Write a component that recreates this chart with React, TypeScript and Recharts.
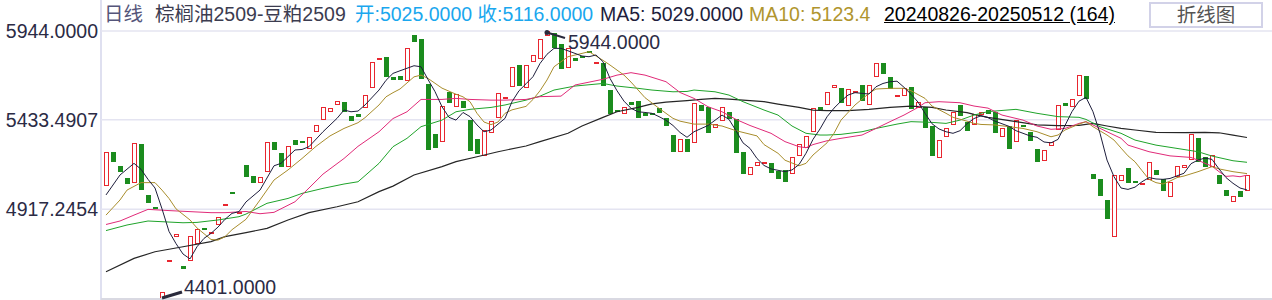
import React from 'react';
import { ComposedChart, Bar, Line, XAxis, YAxis, CartesianGrid, ReferenceDot, ReferenceLine } from 'recharts';

// 棕榈油2509-豆粕2509 daily, 20240826-20250512, 164 candles
const opens = [
  5053, 5246, 5168, 5096, 5067, 5293, 5000, 4929, 4401, 4612,
  4760, 4591, 4620, 4716, 4808, 4783, 4827, 4941, 5019, 4889,
  5173, 5111, 5071, 5131, 5303, 5240, 5163, 5316, 5311, 5263,
  5361, 5432, 5478, 5516, 5537, 5455, 5466, 5499, 5614, 5783,
  5794, 5677, 5687, 5658, 5921, 5898, 5639, 5351, 5303, 5595,
  5508, 5543, 5432, 5322, 5226, 5359, 5441, 5554, 5620, 5748,
  5614, 5764, 5783, 5917, 5931, 5869, 5729, 5790, 5800, 5829,
  5761, 5761, 5604, 5488, 5464, 5535, 5541, 5470, 5472, 5501,
  5445, 5345, 5249, 5322, 5297, 5518, 5505, 5384, 5426, 5476,
  5436, 5246, 5113, 5167, 5185, 5182, 5138, 5144, 5119, 5224,
  5269, 5361, 5505, 5518, 5614, 5614, 5512, 5591, 5633, 5518,
  5677, 5758, 5677, 5570, 5570, 5623, 5499, 5508, 5397, 5211,
  5336, 5403, 5518, 5422, 5403, 5460, 5489, 5476, 5332, 5397,
  5303, 5405, 5361, 5265, 5196, 5282, 5374, 5528, 5505, 5570,
  5685, 5121, 5092, 4971, 4760, 5082, 5157, 5082, 5056, 5086,
  5144, 5090, 4987, 5105, 5153, 5201, 5330, 5220, 5163, 5115,
  5029, 4961, 5023, 5025,
];
const closes = [
  5246, 5192, 5134, 5063, 5297, 5029, 4952, 4919, 4440, 4625,
  4774, 4572, 4764, 4802, 4798, 4789, 4875, 4946, 5004, 4900,
  5105, 5071, 5102, 5303, 5259, 5163, 5282, 5288, 5301, 5332,
  5401, 5505, 5499, 5541, 5476, 5428, 5451, 5576, 5764, 5789,
  5681, 5662, 5662, 5844, 5882, 5668, 5259, 5272, 5512, 5528,
  5581, 5502, 5255, 5236, 5374, 5426, 5585, 5566, 5735, 5629,
  5748, 5806, 5896, 5944, 5844, 5725, 5848, 5773, 5792, 5823,
  5767, 5629, 5466, 5482, 5505, 5520, 5445, 5456, 5466, 5470,
  5399, 5249, 5322, 5249, 5528, 5485, 5359, 5409, 5505, 5436,
  5240, 5119, 5159, 5188, 5189, 5128, 5094, 5076, 5217, 5292,
  5339, 5502, 5489, 5595, 5631, 5528, 5608, 5597, 5543, 5631,
  5758, 5695, 5608, 5574, 5614, 5493, 5533, 5384, 5226, 5316,
  5384, 5479, 5456, 5370, 5464, 5476, 5466, 5355, 5384, 5263,
  5432, 5399, 5312, 5188, 5259, 5307, 5518, 5514, 5553, 5691,
  5553, 5092, 4996, 4862, 5115, 5115, 5071, 5071, 5071, 5188,
  5115, 5025, 5076, 5168, 5173, 5349, 5192, 5163, 5230, 5063,
  4996, 4994, 4990, 5116,
];

// moving averages as [candle index, value]
const ma5Pts: [number, number][] = [
  [0, 5000], [2, 5115], [4, 5182], [5, 5148], [6, 5090], [7, 5040], [8, 4920], [9, 4790], [10, 4720],
  [11, 4660], [12, 4632], [13, 4702], [14, 4750], [15, 4779], [16, 4815], [17, 4860], [18, 4894],
  [19, 4904], [20, 4960], [22, 5028], [24, 5168], [25, 5182], [27, 5259], [28, 5262], [29, 5278],
  [31, 5364], [33, 5441], [34, 5489], [35, 5479], [36, 5483], [37, 5518], [39, 5604], [40, 5660],
  [41, 5700], [42, 5715], [44, 5744], [45, 5738], [46, 5665], [47, 5595], [48, 5508], [49, 5447],
  [50, 5431], [51, 5475], [52, 5451], [53, 5403], [54, 5364], [55, 5374], [57, 5441], [58, 5537],
  [59, 5600], [60, 5640], [61, 5681], [62, 5757], [63, 5810], [64, 5844], [65, 5844], [66, 5830],
  [67, 5815], [68, 5800], [69, 5796], [70, 5806], [71, 5767], [72, 5671], [73, 5600], [74, 5540],
  [75, 5499], [76, 5479], [77, 5475], [78, 5470], [79, 5451], [80, 5430], [81, 5400], [82, 5360],
  [83, 5332], [84, 5364], [86, 5400], [88, 5460], [89, 5435], [90, 5370], [91, 5300], [92, 5268],
  [93, 5210], [94, 5170], [95, 5150], [97, 5134], [98, 5144], [99, 5175], [100, 5240], [101, 5320],
  [102, 5380], [103, 5450], [104, 5500], [105, 5540], [106, 5575], [107, 5589], [108, 5585],
  [109, 5581], [110, 5623], [111, 5642], [112, 5652], [113, 5655], [114, 5620], [115, 5580],
  [116, 5535], [117, 5470], [118, 5410], [119, 5380], [120, 5364], [121, 5355], [122, 5370],
  [123, 5410], [124, 5440], [125, 5456], [126, 5445], [127, 5425], [128, 5410], [129, 5395],
  [130, 5370], [131, 5355], [132, 5340], [133, 5332], [134, 5305], [135, 5300], [136, 5320],
  [137, 5400], [138, 5480], [139, 5540], [140, 5562], [141, 5479], [142, 5355], [143, 5201],
  [144, 5105], [145, 5040], [146, 5032], [147, 5045], [148, 5076], [149, 5100], [150, 5092],
  [151, 5090], [152, 5095], [153, 5110], [154, 5125], [155, 5180], [156, 5201], [157, 5212],
  [158, 5205], [159, 5150], [160, 5100], [161, 5067], [162, 5040], [163, 5029],
];
const ma10Pts: [number, number][] = [
  [0, 4884], [2, 4971], [3, 5028], [5, 5071], [7, 5071], [8, 5028], [9, 4980], [10, 4920], [12, 4856],
  [13, 4810], [15, 4744], [16, 4740], [17, 4760], [18, 4800], [19, 4830], [20, 4860], [22, 4971],
  [24, 5086], [26, 5144], [28, 5210], [30, 5280], [32, 5340], [34, 5383], [36, 5416], [37, 5445],
  [39, 5518], [40, 5565], [41, 5589], [42, 5610], [44, 5680], [45, 5690], [46, 5671], [48, 5615],
  [50, 5580], [51, 5565], [52, 5537], [53, 5470], [54, 5420], [55, 5405], [56, 5420], [57, 5470],
  [58, 5490], [60, 5510], [61, 5550], [62, 5600], [63, 5662], [64, 5738], [66, 5796], [68, 5815],
  [69, 5825], [70, 5800], [71, 5775], [72, 5748], [74, 5690], [75, 5650], [77, 5560], [79, 5499],
  [81, 5441], [82, 5425], [84, 5408], [86, 5408], [88, 5397], [90, 5370], [92, 5350], [93, 5340],
  [94, 5290], [96, 5240], [97, 5200], [99, 5168], [100, 5182], [101, 5230], [103, 5300],
  [104, 5355], [105, 5431], [107, 5518], [109, 5585], [110, 5610], [112, 5614], [114, 5614],
  [115, 5600], [117, 5556], [118, 5512], [120, 5470], [121, 5447], [123, 5425], [124, 5412],
  [125, 5406], [127, 5403], [129, 5393], [131, 5383], [133, 5364], [135, 5335], [136, 5345],
  [137, 5374], [139, 5408], [140, 5422], [141, 5393], [143, 5345], [144, 5316], [145, 5270],
  [146, 5225], [147, 5191], [148, 5140], [149, 5090], [150, 5071], [151, 5063], [152, 5080],
  [153, 5100], [154, 5109], [156, 5134], [158, 5163], [159, 5150], [161, 5134], [163, 5123],
];
const ma20Pts: [number, number][] = [
  [0, 4830], [2, 4850], [4, 4884], [6, 4917], [9, 4910], [12, 4904], [15, 4898], [17, 4898],
  [20, 4905], [22, 4892], [24, 4900], [27, 4961], [29, 5040], [31, 5120], [34, 5210], [36, 5280],
  [39, 5364], [41, 5440], [43, 5479], [45, 5550], [48, 5550], [50, 5556], [52, 5550], [55, 5546],
  [57, 5546], [60, 5550], [62, 5566], [65, 5569], [67, 5633], [71, 5666], [73, 5690], [75, 5704],
  [77, 5690], [80, 5652], [82, 5590], [84, 5556], [86, 5508], [88, 5479], [90, 5435], [92, 5400],
  [95, 5355], [97, 5307], [99, 5278], [100, 5272], [101, 5290], [103, 5312], [105, 5326],
  [108, 5345], [110, 5383], [112, 5422], [114, 5460], [116, 5504], [117, 5531], [119, 5537],
  [122, 5531], [124, 5512], [126, 5500], [128, 5460], [131, 5431], [133, 5397], [135, 5378],
  [137, 5383], [139, 5412], [140, 5422], [141, 5403], [143, 5364], [145, 5326], [146, 5287],
  [149, 5249], [152, 5225], [155, 5216], [156, 5200], [157, 5182], [158, 5166], [159, 5134],
  [160, 5107], [161, 5110], [162, 5105], [163, 5114],
];
const ma30Pts: [number, number][] = [
  [0, 4795], [3, 4827], [6, 4850], [9, 4844], [11, 4840], [13, 4842], [16, 4856], [19, 4875],
  [20, 4890], [23, 4952], [26, 4980], [28, 5009], [31, 5038], [34, 5063], [36, 5076], [37, 5111],
  [39, 5182], [41, 5278], [43, 5326], [45, 5393], [48, 5431], [50, 5479], [52, 5493], [55, 5504],
  [57, 5518], [60, 5546], [62, 5569], [64, 5604], [67, 5627], [71, 5642], [73, 5627], [76, 5614],
  [78, 5604], [81, 5594], [83, 5596], [84, 5604], [87, 5594], [89, 5575], [91, 5537], [94, 5489],
  [96, 5460], [98, 5397], [100, 5355], [102, 5345], [103, 5345], [105, 5349], [108, 5364],
  [110, 5383], [113, 5408], [115, 5422], [118, 5418], [120, 5412], [122, 5431], [124, 5460],
  [126, 5480], [130, 5493], [133, 5470], [136, 5451], [139, 5447], [140, 5435], [142, 5393],
  [145, 5355], [147, 5316], [150, 5287], [153, 5268], [156, 5249], [158, 5224], [161, 5197],
  [163, 5188],
];
const ma60Pts: [number, number][] = [
  [0, 4558], [4, 4635], [7, 4673], [11, 4702], [15, 4731], [17, 4760], [20, 4783], [23, 4808],
  [26, 4856], [29, 4898], [33, 4932], [36, 4961], [39, 5019], [41, 5051], [44, 5115], [48, 5163],
  [50, 5192], [53, 5220], [56, 5249], [60, 5282], [62, 5307], [66, 5355], [68, 5397], [71, 5447],
  [73, 5479], [76, 5504], [78, 5524], [80, 5535], [83, 5543], [85, 5550], [87, 5556], [89, 5552],
  [91, 5546], [94, 5537], [96, 5523], [99, 5504], [101, 5489], [103, 5485], [106, 5485],
  [109, 5493], [112, 5504], [115, 5512], [118, 5504], [120, 5489], [123, 5474], [124, 5464],
  [126, 5447], [130, 5422], [133, 5403], [136, 5399], [139, 5401], [141, 5412], [143, 5397],
  [145, 5383], [147, 5374], [150, 5360], [154, 5359], [157, 5360], [159, 5358], [161, 5345],
  [163, 5331],
];

const yTicks = [4917.2454, 5433.4907, 5944];
const yMin = 4401;
const yMax = 5944;
const highIdx = 63;
const lowIdx = 8;

const sparse = (pts: [number, number][]) => {
  const arr: (number | null)[] = opens.map(() => null);
  pts.forEach(([i, v]) => { arr[i] = v; });
  return arr;
};
const ma5 = sparse(ma5Pts);
const ma10 = sparse(ma10Pts);
const ma20 = sparse(ma20Pts);
const ma30 = sparse(ma30Pts);
const ma60 = sparse(ma60Pts);

const data = opens.map((o, i) => ({
  idx: i,
  open: o,
  close: closes[i],
  body: [Math.min(o, closes[i]), Math.max(o, closes[i])],
  ma5: ma5[i],
  ma10: ma10[i],
  ma20: ma20[i],
  ma30: ma30[i],
  ma60: ma60[i],
}));

const FONT = '"Liberation Sans", Arial, "Noto Sans CJK SC", sans-serif';
const LABEL = '#2b2b45';

// candle body only (the reference shows no wicks), snapped to whole pixels
const Candle = (props: any) => {
  const { x, y, width, height, payload } = props;
  const t = height < 0 ? y + height : y;
  const left = Math.round(x);
  const w = Math.round(width);
  const top = Math.round(t);
  const bottom = Math.max(Math.round(t + Math.abs(height)), top + 2);
  const h = bottom - top;
  if (payload.close >= payload.open) {
    return <rect x={left + 0.5} y={top + 0.5} width={w - 1} height={Math.max(h - 1, 1)} fill="#fff" stroke="#e8262f" strokeWidth={1} />;
  }
  return <rect x={left} y={top} width={w} height={h} fill="#1b8c1e" />;
};

const YTick = (p: any) => (
  <text x={98} y={p.y} textAnchor="end" dominantBaseline="central" fontSize={19.5} fill={LABEL} fontFamily={FONT}>
    {Number(p.payload.value).toFixed(4)}
  </text>
);

const HighMark = (p: any) => (
  <g>
    <circle cx={p.cx} cy={p.cy + 1.5} r={2.5} fill="#2a2a3c" />
    <line x1={p.cx} y1={p.cy + 1.5} x2={p.cx + 18} y2={p.cy + 7} stroke="#2a2a3c" strokeWidth={2} />
    <text x={p.cx + 21} y={p.cy + 11} dominantBaseline="central" fontSize={19.5} fill={LABEL} fontFamily={FONT}>
      {yMax.toFixed(4)}
    </text>
  </g>
);

const LowMark = (p: any) => (
  <g>
    <line x1={p.cx} y1={p.cy - 1} x2={p.cx + 20} y2={p.cy - 7} stroke="#2a2a3c" strokeWidth={3} />
    <text x={p.cx + 22} y={p.cy - 12} dominantBaseline="central" fontSize={19.5} fill={LABEL} fontFamily={FONT}>
      {yMin.toFixed(4)}
    </text>
  </g>
);

const span = (left: number, color: string, text: string, extra: React.CSSProperties = {}) => (
  <span style={{ position: 'absolute', left, top: 2, lineHeight: '24px', color, whiteSpace: 'nowrap', ...extra }}>{text}</span>
);

export default function App() {
  return (
    <div style={{ position: 'absolute', left: 0, top: 0, width: 1272, height: 300, background: '#fff', fontFamily: FONT, fontSize: 19.5, overflow: 'hidden' }}>
      <div style={{ position: 'absolute', left: 100, top: 0, width: 2, height: 300, background: '#dfe0f0' }} />
      <ComposedChart
        width={1272}
        height={300}
        data={data}
        margin={{ top: 31, right: 0, bottom: 1, left: 0 }}
        style={{ position: 'absolute', left: 0, top: 0 }}
      >
        <CartesianGrid vertical={false} stroke="#e4e4f1" strokeWidth={1.5} />
        <XAxis dataKey="idx" type="category" hide padding={{ left: 1.5, right: 21.5 }} />
        <YAxis
          type="number"
          width={101}
          domain={[yMin, yMax]}
          ticks={yTicks}
          allowDataOverflow
          axisLine={false}
          tickLine={false}
          tick={<YTick />}
        />
        <ReferenceLine y={yMin} stroke="#d9d9e2" strokeWidth={2} />
        <Bar dataKey="body" barSize={5} shape={<Candle />} isAnimationActive={false} />
        <Line dataKey="ma60" stroke="#262626" strokeWidth={1.2} dot={false} connectNulls isAnimationActive={false} />
        <Line dataKey="ma30" stroke="#1fa32a" strokeWidth={1} dot={false} connectNulls isAnimationActive={false} />
        <Line dataKey="ma20" stroke="#e02a78" strokeWidth={1} dot={false} connectNulls isAnimationActive={false} />
        <Line dataKey="ma10" stroke="#a88d2c" strokeWidth={1} dot={false} connectNulls isAnimationActive={false} />
        <Line dataKey="ma5" stroke="#1e1e3c" strokeWidth={1} dot={false} connectNulls isAnimationActive={false} />
        <ReferenceDot x={highIdx} y={yMax} r={0} shape={<HighMark />} />
        <ReferenceDot x={lowIdx} y={yMin} r={0} shape={<LowMark />} />
      </ComposedChart>
      {span(104, '#55557a', '日线')}
      {span(155, '#3c3c50', '棕榈油2509-豆粕2509')}
      {span(355, '#1aa7ee', '开:5025.0000 收:5116.0000')}
      {span(600, '#1e1e3c', 'MA5: 5029.0000')}
      {span(749, '#b0952e', 'MA10: 5123.4')}
      {span(884, '#000', '20240826-20250512 (164)', { textDecoration: 'underline' })}
      <div style={{ position: 'absolute', left: 1149, top: 2, width: 110, height: 22, border: '2px solid #d2d2e8', color: '#555', textAlign: 'center', lineHeight: '22px' }}>
        折线图
      </div>
    </div>
  );
}
